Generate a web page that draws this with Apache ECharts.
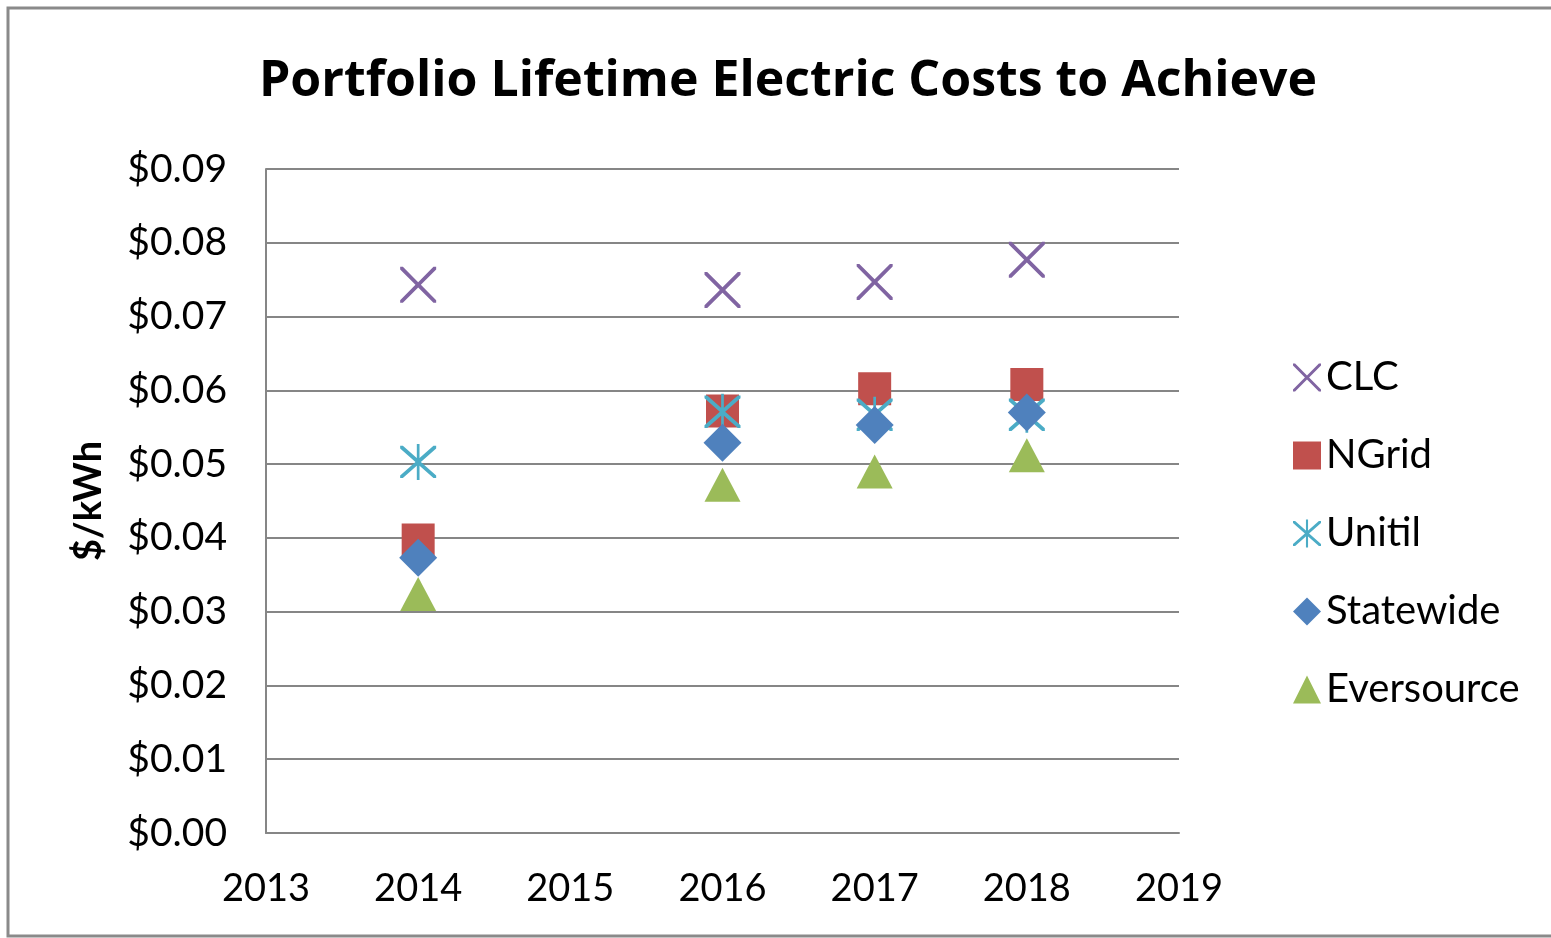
<!DOCTYPE html>
<html>
<head>
<meta charset="utf-8">
<script src="https://cdn.jsdelivr.net/npm/echarts@6/dist/echarts.min.js"></script>
<style>
  html, body { margin: 0; padding: 0; background: #fff; }
  #main { width: 1551px; height: 938px; }
</style>
</head>
<body>
<div id="main"></div>
<script>
// data
const years = [2014, 2016, 2017, 2018];
const clc = [0.0743, 0.0736, 0.0747, 0.0777];
const ngrid = [0.0397, 0.0572, 0.0602, 0.0608];
const unitil = [0.0503, 0.0571, 0.0567, 0.0567];
const statewide = [0.0373, 0.0529, 0.0553, 0.0570];
const eversource = [0.0324, 0.0472, 0.0490, 0.0512];

const font = 'Lato';
const xMark = 'path://M0,0 L3,0 L20,17 L37,0 L40,0 L40,3 L23,20 L40,37 L40,40 L37,40 L20,23 L3,40 L0,40 L0,37 L17,20 L0,3 Z';
const star = 'path://M0,2 L3,2 L20,17 L37,2 L40,2 L40,5 L23,20 L40,35 L40,38 L37,38 L20,23 L3,38 L0,38 L0,35 L17,20 L0,5 Z M18.5,0 L21.5,0 L21.5,40 L18.5,40 Z';

function pts(vals) {
  return years.map((y, i) => [y, vals[i]]);
}

const chart = echarts.init(document.getElementById('main'));

var option = {
  backgroundColor: '#ffffff',
  animation: false,
  title: {
    text: 'Portfolio Lifetime Electric Costs to Achieve',
    left: 783,
    textAlign: 'center',
    top: 52,
    textStyle: { fontFamily: 'Open Sans', fontWeight: 'bold', fontSize: 50, color: '#000' }
  },
  graphic: [{
    type: 'rect',
    shape: { x: 8, y: 8, width: 1560, height: 928 },
    style: { fill: 'none', stroke: '#8a8a8a', lineWidth: 3 },
    silent: true
  }],
  grid: { left: 266, top: 169, right: 372, bottom: 105 },
  legend: {
    orient: 'vertical',
    left: 1288,
    top: 352,
    itemWidth: 28,
    itemHeight: 28,
    itemGap: 37,
    textStyle: { fontFamily: font, fontSize: 40, color: '#000', lineHeight: 41 },
    data: ['CLC', 'NGrid', 'Unitil', 'Statewide', 'Eversource']
  },
  xAxis: {
    type: 'value',
    min: 2013,
    max: 2019,
    interval: 1,
    splitLine: { show: false },
    axisTick: { show: false },
    axisLine: { lineStyle: { color: '#868686', width: 2 } },
    axisLabel: {
      margin: 37,
      fontFamily: font, fontSize: 38, color: '#000',
      formatter: v => String(v)
    }
  },
  yAxis: {
    type: 'value',
    min: 0,
    max: 0.09,
    interval: 0.01,
    name: '$/kWh',
    nameLocation: 'middle',
    nameGap: 158,
    nameTextStyle: { fontFamily: font, fontWeight: 'bold', fontSize: 38, color: '#000' },
    axisLine: { show: true, lineStyle: { color: '#868686', width: 2 } },
    axisTick: { show: false },
    splitLine: { lineStyle: { color: '#868686', width: 2 } },
    axisLabel: {
      margin: 39,
      fontFamily: font, fontSize: 39, color: '#000',
      formatter: v => '$' + v.toFixed(2)
    }
  },
  series: [
    {
      name: 'CLC', type: 'scatter', data: pts(clc),
      symbol: xMark, symbolSize: 36,
      itemStyle: { color: '#8064A2', opacity: 1 }
    },
    {
      name: 'NGrid', type: 'scatter', data: pts(ngrid),
      symbol: 'rect', symbolSize: 33,
      itemStyle: { color: '#C0504D', opacity: 1 }
    },
    {
      name: 'Unitil', type: 'scatter', data: pts(unitil),
      symbol: star, symbolSize: 36,
      itemStyle: { color: '#4BACC6', opacity: 1 }
    },
    {
      name: 'Statewide', type: 'scatter', data: pts(statewide),
      symbol: 'diamond', symbolSize: 38,
      itemStyle: { color: '#4F81BD', opacity: 1 }
    },
    {
      name: 'Eversource', type: 'scatter', data: pts(eversource),
      symbol: 'triangle', symbolSize: [36, 34],
      itemStyle: { color: '#9BBB59', opacity: 1 }
    }
  ]
};

chart.setOption(option);
</script>
</body>
</html>
